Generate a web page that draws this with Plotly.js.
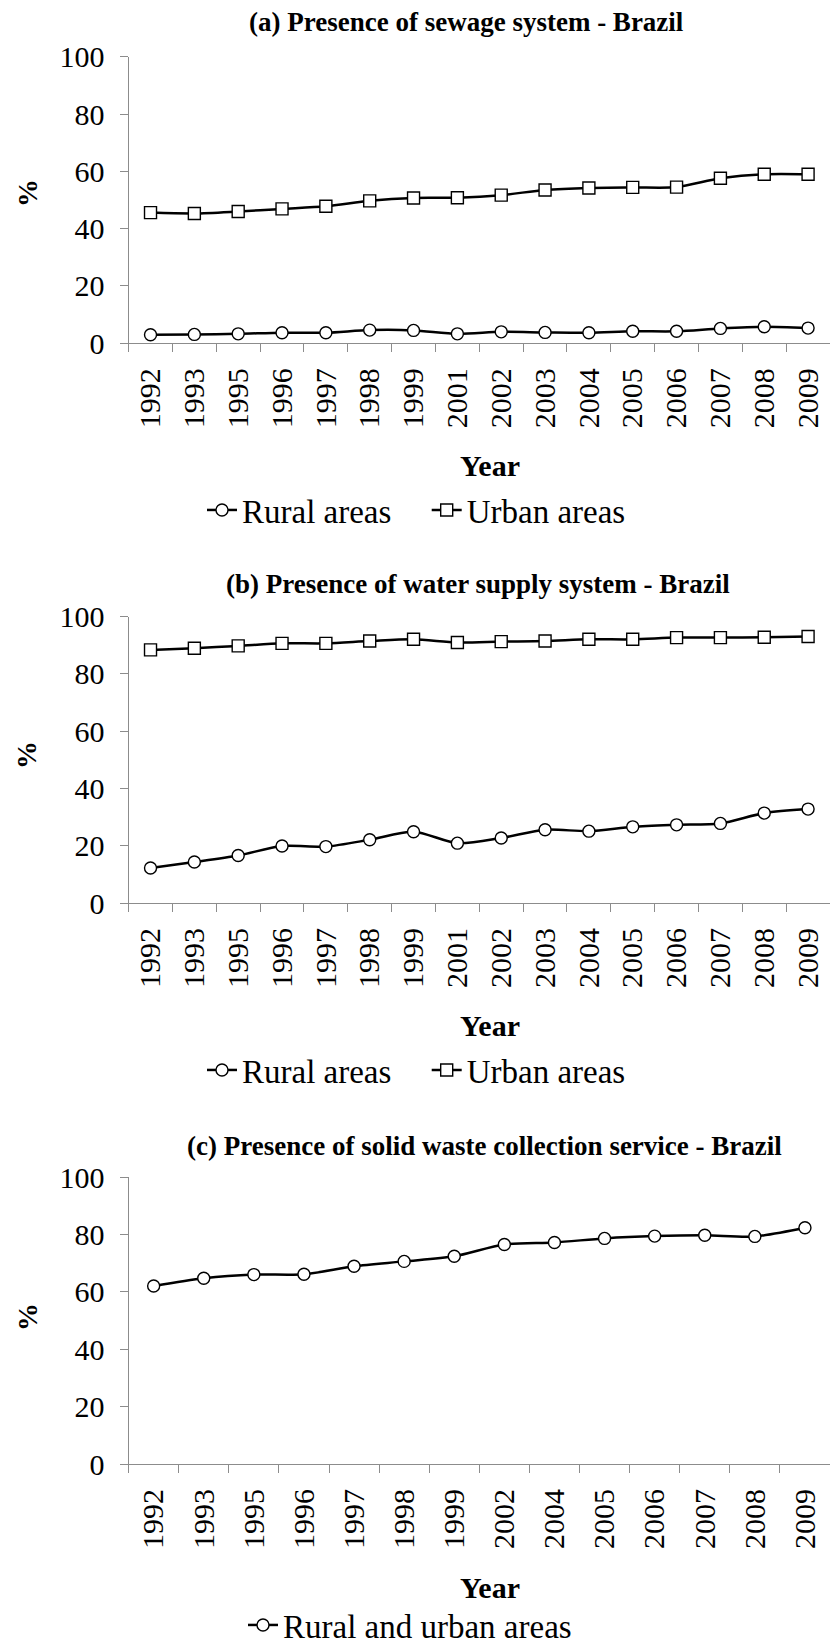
<!DOCTYPE html>
<html>
<head>
<meta charset="utf-8">
<script src="https://cdn.plot.ly/plotly-3.0.1.min.js"></script>
<style>
html,body{margin:0;padding:0;background:#fff;overflow:hidden;}
#wrap{width:830px;height:1647px;overflow:hidden;position:relative;}
#chart{width:830px;height:1680px;}
</style>
</head>
<body>
<div id="wrap"><div id="chart"></div></div>
<script>
// ---- Data ----
const yearsAB = ["1992","1993","1995","1996","1997","1998","1999","2001","2002","2003","2004","2005","2006","2007","2008","2009"];
const yearsC = ["1992","1993","1995","1996","1997","1998","1999","2002","2004","2005","2006","2007","2008","2009"];

const sewageRural = [3.0,3.1,3.3,3.7,3.7,4.6,4.5,3.3,4.0,3.8,3.7,4.2,4.2,5.2,5.8,5.3];
const sewageUrban = [45.6,45.3,46.0,46.9,47.8,49.7,50.7,50.8,51.7,53.5,54.2,54.4,54.5,57.6,59.0,59.0];

const waterRural = [12.2,14.3,16.6,19.9,19.7,22.1,24.9,20.9,22.7,25.6,25.1,26.6,27.3,27.8,31.4,32.8];
const waterUrban = [88.4,89.0,89.8,90.7,90.7,91.5,92.1,91.0,91.3,91.5,92.1,92.1,92.7,92.7,92.8,93.1];

const wasteAll = [62.0,64.7,66.0,66.1,68.9,70.6,72.4,76.5,77.2,78.6,79.4,79.7,79.3,82.3];

const titles = ["(a) Presence of sewage system - Brazil",
                "(b) Presence of water supply system - Brazil",
                "(c) Presence of solid waste collection service - Brazil"];
const nameRural = "Rural areas", nameUrban = "Urban areas", nameAll = "Rural and urban areas";
const xTitle = "Year", yTitle = "%";

// ---- Layout helpers ----
const W = 830, H = 1680;   // drawing is slightly taller than the visible 1647 px window
const FONT = "Liberation Serif";
const px = v => v / W;
const py = v => 1 - v / H;

function lineTrace(x, y, name, symbol, xa, ya, legend) {
  return {
    type: "scatter", mode: "lines+markers", x: x, y: y, name: name,
    xaxis: xa, yaxis: ya, legend: legend, cliponaxis: false,
    line: {color: "#000", width: 2.5, shape: "spline", smoothing: 0.8},
    marker: {symbol: symbol, size: 12, color: "#fff", line: {color: "#000", width: 1.4}}
  };
}

const data = [
  lineTrace(yearsAB, sewageRural, nameRural, "circle", "x", "y", "legend"),
  lineTrace(yearsAB, sewageUrban, nameUrban, "square", "x", "y", "legend2"),
  lineTrace(yearsAB, waterRural, nameRural, "circle", "x2", "y2", "legend3"),
  lineTrace(yearsAB, waterUrban, nameUrban, "square", "x2", "y2", "legend4"),
  lineTrace(yearsC, wasteAll, nameAll, "circle", "x3", "y3", "legend5")
];

function xAxis(cats, anchor) {
  return {
    type: "category", categoryorder: "array", categoryarray: cats,
    range: [-0.5, cats.length - 0.5], domain: [px(128.6), 1], anchor: anchor,
    tickson: "boundaries", ticks: "outside", ticklen: 8, tickcolor: "#8c8c8c", tickwidth: 1,
    showline: true, linecolor: "#8c8c8c", linewidth: 1, showgrid: false, zeroline: false,
    tickangle: -90, tickfont: {family: FONT, size: 30, color: "#000"}, ticklabelstandoff: 12,
    fixedrange: true
  };
}
function yAxis(top, bottom, anchor) {
  return {
    range: [0, 100], dtick: 20, tick0: 0, domain: [py(bottom), py(top)], anchor: anchor,
    ticks: "outside", ticklen: 8, tickcolor: "#8c8c8c", tickwidth: 1,
    showline: true, linecolor: "#8c8c8c", linewidth: 1, showgrid: false, zeroline: false,
    tickfont: {family: FONT, size: 30, color: "#000"}, ticklabelstandoff: 9,
    fixedrange: true
  };
}

function ann(text, x, y, size, bold, angle) {
  return {
    xref: "paper", yref: "paper", x: px(x), y: py(y), xanchor: "center", yanchor: "middle",
    text: bold ? "<b>" + text + "</b>" : text, showarrow: false, textangle: angle || 0,
    font: {family: FONT, size: size, color: "#000"}
  };
}

function legendCfg(xLeft, y) {
  return {
    orientation: "h", x: px(xLeft), y: py(y), xanchor: "left", yanchor: "middle",
    font: {family: FONT, size: 33, color: "#000"}, bgcolor: "rgba(0,0,0,0)",
    itemwidth: 30, tracegroupgap: 0, itemclick: false, itemdoubleclick: false
  };
}

const layout = {
  width: W, height: H, margin: {l: 0, r: 0, t: 0, b: 0},
  font: {family: FONT, color: "#000"},
  paper_bgcolor: "#fff", plot_bgcolor: "#fff", showlegend: true,
  xaxis: xAxis(yearsAB, "y"),
  yaxis: yAxis(56.7, 343.3, "x"),
  xaxis2: xAxis(yearsAB, "y2"),
  yaxis2: yAxis(616.7, 903, "x2"),
  xaxis3: xAxis(yearsC, "y3"),
  yaxis3: yAxis(1177, 1464, "x3"),
  legend: legendCfg(202, 510),
  legend2: legendCfg(426.7, 510),
  legend3: legendCfg(202, 1070),
  legend4: legendCfg(426.7, 1070),
  legend5: legendCfg(243, 1625),
  annotations: [
    ann(titles[0], 466, 22, 27, true),
    ann(titles[1], 478, 584, 27, true),
    ann(titles[2], 484, 1146, 27, true),
    ann(xTitle, 490, 465, 30, true),
    ann(xTitle, 490, 1025, 30, true),
    ann(xTitle, 490, 1587, 30, true),
    ann(yTitle, 27, 193, 28, true, -90),
    ann(yTitle, 27, 755, 28, true, -90),
    ann(yTitle, 27, 1317, 28, true, -90)
  ]
};

Plotly.newPlot("chart", data, layout, {displayModeBar: false, staticPlot: true});
</script>
</body>
</html>
